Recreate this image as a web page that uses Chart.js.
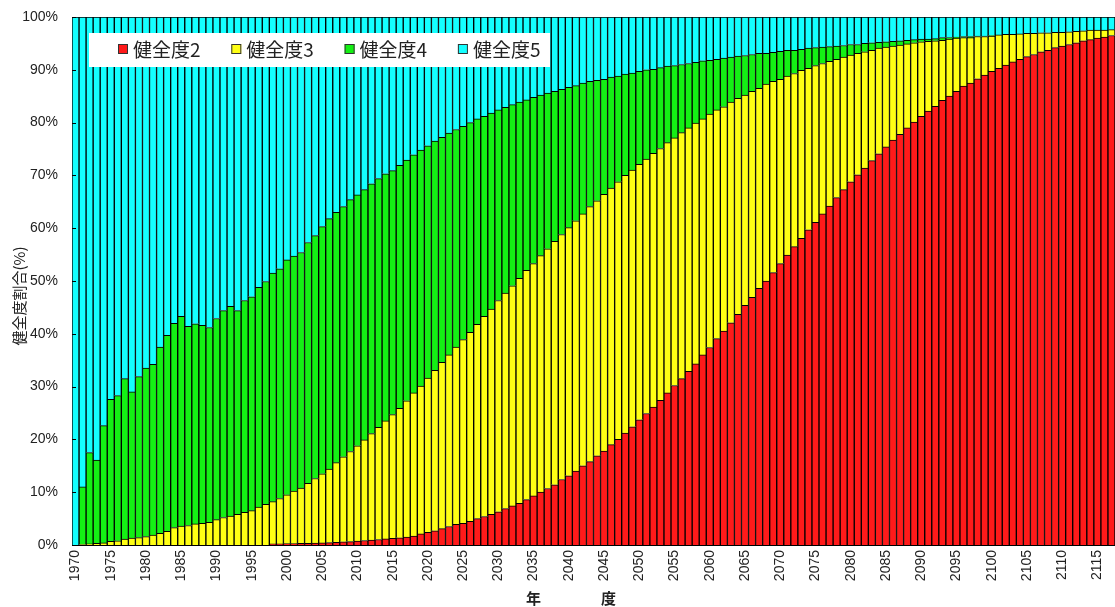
<!DOCTYPE html>
<html lang="ja">
<head>
    <meta charset="UTF-8">
    <title>健全度割合</title>
    <style>
        body {
            margin: 0;
            background: #fff;
        }
        #wrap {
            width: 1115px;
            height: 607px;
        }
    </style>
    <script src="https://cdn.jsdelivr.net/npm/chart.js"></script>
</head>
<body>
    <div id="wrap">
        <canvas id="healthChart" width="1115" height="607"></canvas>
    </div>

    <script>
        // 年度 1970 - 2117
        const firstYear = 1970;
        const lastYear = 2117;
        const years = [];
        for (let y = firstYear; y <= lastYear; y++) years.push(y);

        // 健全度2 (%)
        const grade2 = [
            0, 0, 0, 0, 0, 0, 0, 0, 0, 0,
            0, 0, 0, 0, 0, 0, 0, 0, 0, 0,
            0, 0, 0, 0, 0, 0, 0, 0, 0.2, 0.2,
            0.25, 0.25, 0.3, 0.3, 0.35, 0.4, 0.45, 0.5, 0.6, 0.65,
            0.75, 0.85, 0.95, 1.05, 1.15, 1.25, 1.35, 1.5, 1.7, 2.1,
            2.4, 2.7, 3.1, 3.5, 3.9, 4.1, 4.5, 5.0, 5.4, 5.8,
            6.3, 6.9, 7.4, 7.9, 8.6, 9.3, 10.0, 10.7, 11.4, 12.4,
            13.1, 14.0, 15.0, 15.8, 16.9, 17.8, 19.0, 20.0, 21.2, 22.4,
            23.7, 24.9, 26.1, 27.4, 28.8, 30.2, 31.5, 32.9, 34.3, 36.0,
            37.4, 39.1, 40.5, 42.1, 43.7, 45.4, 46.9, 48.6, 50.0, 51.6,
            53.3, 54.9, 56.5, 58.1, 59.7, 61.1, 62.7, 64.2, 65.8, 67.3,
            68.8, 70.1, 71.4, 72.8, 74.1, 75.4, 76.7, 77.8, 79.0, 80.1,
            81.2, 82.2, 83.1, 84.2, 85.0, 85.9, 86.9, 87.5, 88.3, 89.0,
            89.7, 90.3, 90.9, 91.5, 92.0, 92.5, 92.9, 93.4, 93.7, 94.2,
            94.5, 94.8, 95.1, 95.5, 95.7, 96.0, 96.2, 96.5
        ];

        // 健全度3 (%)
        const grade3 = [
            0, 0.1, 0.2, 0.3, 0.4, 0.7, 0.8, 1.1, 1.3, 1.4,
            1.6, 1.9, 2.2, 2.6, 3.3, 3.6, 3.7, 4.0, 4.1, 4.3,
            4.8, 5.2, 5.5, 5.8, 6.2, 6.5, 7.2, 7.7, 8.0, 8.6,
            9.25, 9.95, 10.5, 11.4, 12.25, 13.1, 13.95, 15.1, 16.1, 17.05,
            18.05, 19.05, 20.15, 21.25, 22.35, 23.45, 24.55, 25.8, 27.1, 28.0,
            29.2, 30.4, 31.5, 32.5, 33.6, 34.8, 35.8, 36.8, 37.9, 38.9,
            40.0, 40.8, 41.7, 42.6, 43.4, 44.0, 44.8, 45.4, 46.1, 46.4,
            47.0, 47.4, 47.7, 48.3, 48.3, 48.6, 48.6, 48.8, 48.8, 48.6,
            48.4, 48.2, 48.1, 47.7, 47.4, 46.9, 46.6, 46.1, 45.6, 44.7,
            44.2, 43.3, 42.5, 41.8, 40.9, 39.8, 39.0, 37.9, 37.3, 36.2,
            34.9, 33.9, 32.8, 31.8, 30.6, 29.7, 28.5, 27.4, 26.2, 25.1,
            24.0, 23.0, 22.0, 20.9, 20.0, 18.9, 17.8, 16.9, 15.9, 15.0,
            14.1, 13.2, 12.4, 11.4, 10.8, 10.1, 9.2, 8.6, 8.0, 7.3,
            6.7, 6.3, 5.8, 5.2, 4.8, 4.4, 4.0, 3.6, 3.3, 2.9,
            2.6, 2.4, 2.2, 1.9, 1.8, 1.5, 1.3, 1.1
        ];

        // 健全度4 (%)
        const grade4 = [
            0, 10.9, 17.3, 15.8, 22.2, 26.9, 27.5, 30.4, 27.7, 30.5,
            31.9, 32.3, 35.3, 37.1, 38.7, 39.7, 37.7, 37.9, 37.5, 36.9,
            38.1, 39.2, 39.7, 38.6, 40.1, 40.5, 41.6, 42.2, 43.3, 43.5,
            44.5, 44.5, 44.6, 45.6, 46.0, 46.8, 47.4, 47.4, 47.4, 47.7,
            47.5, 47.4, 47.3, 47.1, 46.8, 46.2, 46.0, 45.6, 45.1, 44.7,
            44.0, 43.4, 42.6, 42.0, 41.2, 40.4, 39.7, 38.9, 37.9, 37.1,
            36.1, 35.2, 34.3, 33.4, 32.3, 31.5, 30.4, 29.5, 28.4, 27.5,
            26.6, 25.6, 24.8, 23.7, 22.8, 21.8, 21.0, 20.0, 19.2, 18.4,
            17.6, 16.9, 15.9, 15.3, 14.5, 13.7, 12.9, 12.2, 11.5, 11.0,
            10.2, 9.6, 9.2, 8.5, 8.0, 7.5, 7.0, 6.6, 5.8, 5.5,
            5.3, 4.9, 4.4, 4.0, 3.8, 3.4, 3.1, 2.8, 2.5, 2.2,
            2.0, 1.7, 1.6, 1.4, 1.1, 1.0, 0.9, 0.8, 0.7, 0.6,
            0.5, 0.4, 0.4, 0.5, 0.3, 0.2, 0.2, 0.2, 0.1, 0.1,
            0.1, 0, 0, 0, 0, 0, 0, 0, 0, 0,
            0, 0, 0, 0, 0, 0, 0, 0
        ];

        // 健全度5 (%)
        const grade5 = [
            100, 89.0, 82.5, 83.9, 77.4, 72.4, 71.7, 68.5, 71.0, 68.1,
            66.5, 65.8, 62.5, 60.3, 58.0, 56.7, 58.6, 58.1, 58.4, 58.8,
            57.1, 55.6, 54.8, 55.6, 53.7, 53.0, 51.2, 50.1, 48.5, 47.7,
            46.0, 45.3, 44.6, 42.7, 41.4, 39.7, 38.2, 37.0, 35.9, 34.6,
            33.7, 32.7, 31.6, 30.6, 29.7, 29.1, 28.1, 27.1, 26.1, 25.2,
            24.4, 23.5, 22.8, 22.0, 21.3, 20.7, 20.0, 19.3, 18.8, 18.2,
            17.6, 17.1, 16.6, 16.1, 15.7, 15.2, 14.8, 14.4, 14.1, 13.7,
            13.3, 13.0, 12.5, 12.2, 12.0, 11.8, 11.4, 11.2, 10.8, 10.6,
            10.3, 10.0, 9.9, 9.6, 9.3, 9.2, 9.0, 8.8, 8.6, 8.3,
            8.2, 8.0, 7.8, 7.6, 7.4, 7.3, 7.1, 6.9, 6.9, 6.7,
            6.5, 6.3, 6.3, 6.1, 5.9, 5.8, 5.7, 5.6, 5.5, 5.4,
            5.2, 5.2, 5.0, 4.9, 4.8, 4.7, 4.6, 4.5, 4.4, 4.3,
            4.2, 4.2, 4.1, 3.9, 3.9, 3.8, 3.7, 3.7, 3.6, 3.6,
            3.5, 3.4, 3.3, 3.3, 3.2, 3.1, 3.1, 3.0, 3.0, 2.9,
            2.9, 2.8, 2.7, 2.6, 2.5, 2.5, 2.5, 2.4
        ];

        const seriesNames = ['健全度2', '健全度3', '健全度4', '健全度5'];
        const seriesColors = ['#ff1a1a', '#ffff14', '#14f014', '#14ffff'];

        const numFont = "'Liberation Sans Narrow', 'Liberation Sans', Arial, sans-serif";
        const jpFont = "'Noto Sans CJK JP', 'Noto Sans', sans-serif";
        const textColor = '#222';

        // legend inside the plot on a white box + small inward ticks on y axis
        const innerLegend = {
            id: 'innerLegend',
            afterDatasetsDraw(chart) {
                const ctx = chart.ctx;
                const area = chart.chartArea;
                const yScale = chart.scales.y;
                ctx.save();

                ctx.strokeStyle = '#000';
                ctx.lineWidth = 1;
                yScale.ticks.forEach(t => {
                    const py = Math.round(yScale.getPixelForValue(t.value)) + 0.5;
                    ctx.beginPath();
                    ctx.moveTo(area.left, py);
                    ctx.lineTo(area.left + 4, py);
                    ctx.stroke();
                });

                ctx.fillStyle = '#fff';
                ctx.fillRect(89, 33, 461, 34);

                ctx.font = '19px ' + jpFont;
                ctx.textBaseline = 'middle';
                chart.data.datasets.forEach((ds, i) => {
                    const x = 118 + i * 113.3;
                    ctx.fillStyle = ds.backgroundColor;
                    ctx.fillRect(x, 44, 10, 10);
                    ctx.strokeStyle = '#333';
                    ctx.strokeRect(x + 0.5, 44.5, 9, 9);
                    ctx.fillStyle = textColor;
                    ctx.fillText(ds.label, x + 15, 50);
                });
                ctx.restore();
            }
        };

        const seriesData = [grade2, grade3, grade4, grade5];

        new Chart(document.getElementById('healthChart'), {
            type: 'bar',
            data: {
                labels: years.map(String),
                datasets: seriesData.map((d, i) => ({
                    label: seriesNames[i],
                    data: d,
                    backgroundColor: seriesColors[i],
                    borderColor: '#000',
                    borderWidth: 1,
                    barPercentage: 1,
                    categoryPercentage: 1
                }))
            },
            options: {
                responsive: false,
                animation: false,
                devicePixelRatio: 1,
                layout: {
                    padding: { top: 17, right: 0, left: 0, bottom: 0 }
                },
                plugins: {
                    legend: { display: false },
                    tooltip: { enabled: false }
                },
                scales: {
                    x: {
                        stacked: true,
                        grid: { display: false, drawTicks: false },
                        border: { display: true, color: '#000' },
                        ticks: {
                            autoSkip: false,
                            minRotation: 90,
                            maxRotation: 90,
                            padding: 5,
                            color: textColor,
                            font: { family: numFont, size: 14 },
                            callback: (v, i) => (years[i] % 5 === 0 ? String(years[i]) : '')
                        },
                        title: {
                            display: true,
                            text: '年　　　　度　　　',
                            color: textColor,
                            font: { family: jpFont, size: 15, weight: 'bold' },
                            padding: { top: 0, bottom: 0 }
                        },
                        afterFit(s) {
                            s.height = 62;
                            s.paddingLeft = 0;
                            s.paddingRight = 0;
                        }
                    },
                    y: {
                        stacked: true,
                        min: 0,
                        max: 100,
                        grid: { display: false, drawTicks: false },
                        border: { display: true, color: '#000' },
                        ticks: {
                            stepSize: 10,
                            padding: 14,
                            color: textColor,
                            font: { family: numFont, size: 14 },
                            callback: v => v + '%'
                        },
                        title: {
                            display: true,
                            text: '健全度割合(%)　　',
                            color: textColor,
                            font: { family: jpFont, size: 15 },
                            padding: { top: 10, bottom: 0 }
                        },
                        afterFit(s) {
                            s.width = 72;
                            s.paddingTop = 0;
                            s.paddingBottom = 0;
                        }
                    }
                }
            },
            plugins: [innerLegend]
        });
    </script>
</body>
</html>
